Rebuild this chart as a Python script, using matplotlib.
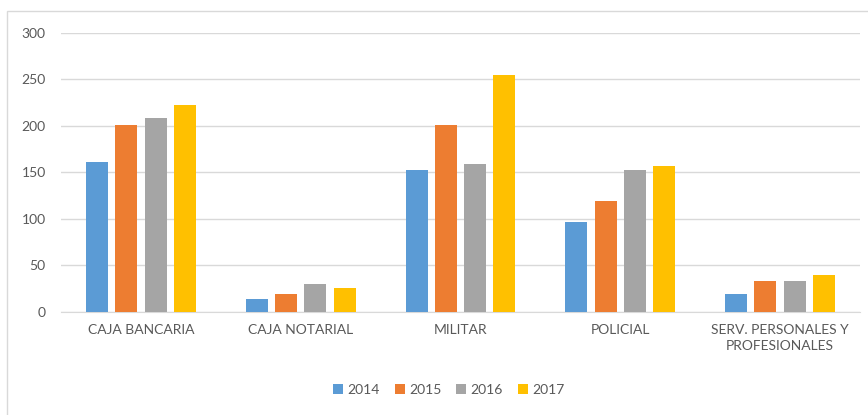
import matplotlib.pyplot as plt
import numpy as np
from matplotlib.patches import Rectangle

categories = ['CAJA BANCARIA', 'CAJA NOTARIAL', 'MILITAR', 'POLICIAL',
              'SERV. PERSONALES Y\nPROFESIONALES']
years = ['2014', '2015', '2016', '2017']
v2014 = [161, 14, 152, 97, 19]
v2015 = [201, 19, 201, 119, 33]
v2016 = [208, 30, 159, 153, 33]
v2017 = [223, 25, 255, 157, 39]
series = [v2014, v2015, v2016, v2017]
colors = ['#5b9bd5', '#ed7d31', '#a5a5a5', '#ffc000']

plt.rcParams['font.family'] = ['Lato', 'DejaVu Sans']
text_color = '#595959'

fig = plt.figure(figsize=(8.68, 4.15), dpi=100)
ax = fig.add_axes([61 / 868, 1 - 311.7 / 415, (860 - 61) / 868, (311.7 - 33) / 415])

# outer chart frame (cropped at right and bottom in the original)
fig.patches.append(Rectangle((7 / 868, -0.1), 1.2, 1 - 11 / 415 + 0.1,
                             transform=fig.transFigure, fill=False,
                             edgecolor='#d9d9d9', linewidth=1))

x = np.arange(len(categories))
pitch = 0.183
width = 0.1375
for i, (vals, col, yr) in enumerate(zip(series, colors, years)):
    ax.bar(x + (i - 1.5) * pitch, vals, width=width, color=col, label=yr, zorder=3)

ax.set_xlim(-0.5, len(categories) - 0.5)
ax.set_ylim(0, 300)
ax.set_yticks(range(0, 301, 50))
ax.set_xticks(x)
ax.set_xticklabels(categories, linespacing=1.4)
ax.grid(axis='y', color='#d9d9d9', linewidth=1, zorder=0)
for s in ['top', 'right', 'left']:
    ax.spines[s].set_visible(False)
ax.spines['bottom'].set_color('#d9d9d9')
ax.tick_params(axis='both', length=0, colors=text_color, labelsize=10)
ax.tick_params(axis='y', pad=11)
ax.tick_params(axis='x', pad=9)

fig.legend(loc='center', bbox_to_anchor=(0.517, 1 - 390 / 415), ncol=4,
           frameon=False, fontsize=10, handlelength=0.7, handleheight=0.7,
           handletextpad=0.3, columnspacing=1.1, labelcolor=text_color)

fig.savefig('out.png', dpi=100)
